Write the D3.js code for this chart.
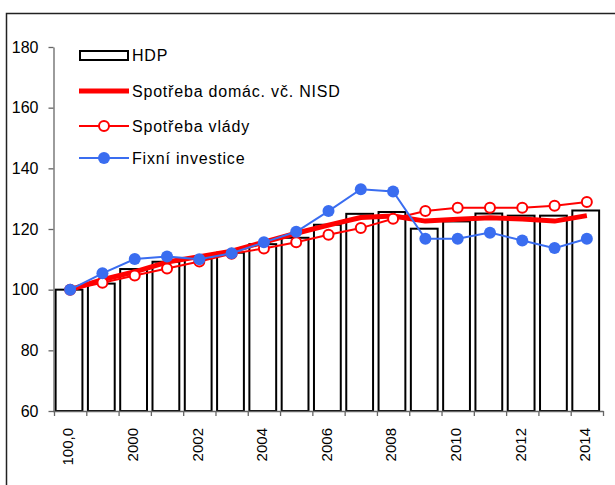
<!DOCTYPE html>
<html>
<head>
<meta charset="utf-8">
<script src="https://cdn.jsdelivr.net/npm/d3@7"></script>
<style>
  body { margin: 0; background: #fff; }
  text { font-family: "Liberation Sans", Arial, sans-serif; }
</style>
</head>
<body>
<svg id="chart" width="615" height="485"></svg>
<script>
// categories (first label is literally "100,0" in the source chart)
var categories = ["100,0", "1999", "2000", "2001", "2002", "2003", "2004", "2005", "2006",
    "2007", "2008", "2009", "2010", "2011", "2012", "2013", "2014"];
var hdp      = [100, 102, 106.8, 109.2, 110.2, 112.2, 115.0, 117.1, 121.4, 125.0, 125.6, 120.1, 122.5, 125.1, 124.4, 124.4, 126.1];
var domac    = [100, 103.3, 105.9, 109.1, 110.9, 112.7, 115.7, 118.6, 121.3, 123.8, 124.3, 122.6, 123.2, 123.7, 123.3, 122.6, 124.4];
var vlada    = [100, 102.3, 104.7, 107.0, 109.3, 111.8, 113.6, 115.6, 118.1, 120.3, 123.4, 125.9, 127.0, 127.0, 127.0, 127.7, 128.9];
var investice= [100, 105.4, 110.1, 110.9, 110.0, 112.0, 115.6, 119.1, 125.9, 133.1, 132.4, 116.8, 116.8, 118.8, 116.2, 113.7, 116.8];
var yTicks = [60, 80, 100, 120, 140, 160, 180];
var legendNames = ["HDP", "Spotřeba domác. vč. NISD", "Spotřeba vlády", "Fixní investice"];

var svg = d3.select("#chart");

// outer frame
svg.append("rect")
    .attr("x", 6.5).attr("y", 13.5)
    .attr("width", 640).attr("height", 500)
    .attr("fill", "none").attr("stroke", "#222").attr("stroke-width", 1.5);

var x = d3.scaleBand().domain(categories).range([54, 603]).padding(0);
var y = d3.scaleLinear().domain([60, 180]).range([411, 47]);
var step = x.step();
var cx = function (d, i) { return x(categories[i]) + step / 2; };

// bars HDP
svg.append("g").selectAll("rect")
    .data(hdp)
    .enter()
    .append("rect")
    .attr("x", function (d, i) { return x(categories[i]) + step * 0.05; })
    .attr("width", step * 0.83)
    .attr("y", function (d) { return y(d); })
    .attr("height", function (d) { return y(60) - y(d); })
    .attr("fill", "#fff")
    .attr("stroke", "#000")
    .attr("stroke-width", 2);

// y axis
var yAxis = svg.append("g")
    .attr("transform", "translate(53.5,0)")
    .call(d3.axisLeft(y).tickValues(yTicks).tickSize(5).tickSizeOuter(0).tickPadding(10));
yAxis.select(".domain").attr("stroke", "#666").attr("stroke-width", 1.3);
yAxis.selectAll(".tick line").attr("stroke", "#666").attr("stroke-width", 1.3);
yAxis.selectAll("text").attr("font-size", 16).attr("fill", "#000")
    .style("font-family", "'Liberation Sans', Arial, sans-serif");

// x axis: line with ticks at category boundaries
var xg = svg.append("g");
xg.append("line")
    .attr("x1", 53).attr("x2", 603.5)
    .attr("y1", 411.5).attr("y2", 411.5)
    .attr("stroke", "#666").attr("stroke-width", 1.3);
var bounds = categories.map(function (c) { return x(c); }).concat([x.range()[1]]);
xg.selectAll("line.tk")
    .data(bounds)
    .enter()
    .append("line")
    .attr("class", "tk")
    .attr("x1", function (d) { return d + 0.5; })
    .attr("x2", function (d) { return d + 0.5; })
    .attr("y1", 411).attr("y2", 416)
    .attr("stroke", "#666").attr("stroke-width", 1.3);
xg.selectAll("text")
    .data(categories.filter(function (c, i) { return i % 2 == 0; }))
    .enter()
    .append("text")
    .attr("transform", function (d) {
        return "translate(" + (x(d) + step / 2 - 2) + ",428) rotate(-90)";
    })
    .attr("text-anchor", "end")
    .attr("dy", "0.35em")
    .attr("font-size", 15)
    .text(function (d) { return d; });

// lines
var line = d3.line()
    .x(function (d, i) { return cx(d, i); })
    .y(function (d) { return y(d); });

svg.append("path")
    .datum(domac)
    .attr("d", line)
    .attr("fill", "none")
    .attr("stroke", "#ff0000")
    .attr("stroke-width", 5)
    .attr("stroke-linejoin", "round");

svg.append("path")
    .datum(vlada)
    .attr("d", line)
    .attr("fill", "none")
    .attr("stroke", "#ff0000")
    .attr("stroke-width", 2);
svg.append("g").selectAll("circle")
    .data(vlada)
    .enter()
    .append("circle")
    .attr("cx", cx)
    .attr("cy", function (d) { return y(d); })
    .attr("r", 5)
    .attr("fill", "#fff")
    .attr("stroke", "#ff0000")
    .attr("stroke-width", 2);

svg.append("path")
    .datum(investice)
    .attr("d", line)
    .attr("fill", "none")
    .attr("stroke", "#3a6df0")
    .attr("stroke-width", 2);
svg.append("g").selectAll("circle")
    .data(investice)
    .enter()
    .append("circle")
    .attr("cx", cx)
    .attr("cy", function (d) { return y(d); })
    .attr("r", 6)
    .attr("fill", "#3a6df0");

// legend
var lg = svg.append("g");
var rows = [55, 91, 126, 158];
lg.append("rect")
    .attr("x", 80).attr("y", 51).attr("width", 48).attr("height", 9)
    .attr("fill", "#fff").attr("stroke", "#000").attr("stroke-width", 2);
lg.append("line")
    .attr("x1", 79).attr("x2", 129).attr("y1", rows[1]).attr("y2", rows[1])
    .attr("stroke", "#ff0000").attr("stroke-width", 5);
lg.append("line")
    .attr("x1", 79).attr("x2", 129).attr("y1", rows[2]).attr("y2", rows[2])
    .attr("stroke", "#ff0000").attr("stroke-width", 2);
lg.append("circle")
    .attr("cx", 104).attr("cy", rows[2]).attr("r", 5)
    .attr("fill", "#fff").attr("stroke", "#ff0000").attr("stroke-width", 2);
lg.append("line")
    .attr("x1", 79).attr("x2", 129).attr("y1", rows[3]).attr("y2", rows[3])
    .attr("stroke", "#3a6df0").attr("stroke-width", 2);
lg.append("circle")
    .attr("cx", 104).attr("cy", rows[3]).attr("r", 6)
    .attr("fill", "#3a6df0");
lg.selectAll("text")
    .data(legendNames)
    .enter()
    .append("text")
    .attr("x", 132)
    .attr("y", function (d, i) { return rows[i]; })
    .attr("dy", "0.35em")
    .attr("font-size", 16)
    .attr("letter-spacing", 0.8)
    .text(function (d) { return d; });
</script>
</body>
</html>
